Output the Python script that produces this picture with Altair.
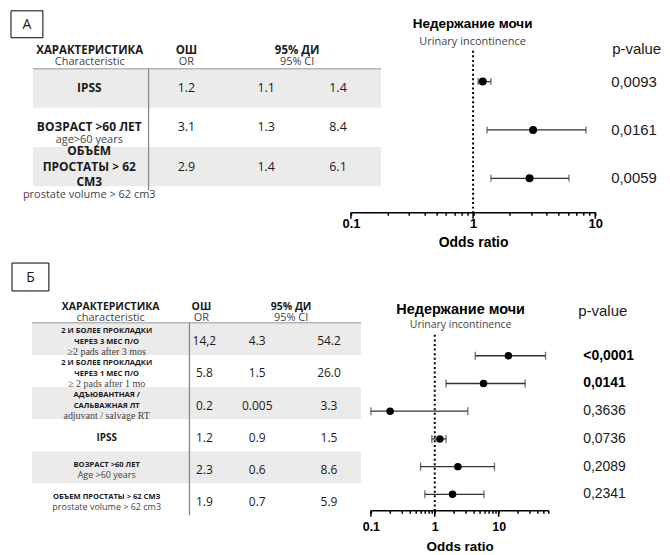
import altair as alt
import pandas as pd

# ---------------- data ----------------
# Panel A
a_ru = ["IPSS", "ВОЗРАСТ >60 ЛЕТ", "ОБЪЕМ\nПРОСТАТЫ > 62\nСМ3"]
a_en = ["", "age>60 years", "prostate volume > 62 cm3"]
a_or = [1.2, 3.1, 2.9]
a_lo = [1.1, 1.3, 1.4]
a_hi = [1.4, 8.4, 6.1]
a_or_txt = ["1.2", "3.1", "2.9"]
a_lo_txt = ["1.1", "1.3", "1.4"]
a_hi_txt = ["1.4", "8.4", "6.1"]
a_p = ["0,0093", "0,0161", "0,0059"]

# Panel B
b_ru = ["2 И БОЛЕЕ ПРОКЛАДКИ\nЧЕРЕЗ 3 МЕС П/О", "2 И БОЛЕЕ ПРОКЛАДКИ\nЧЕРЕЗ 1 МЕС П/О",
        "АДЪЮВАНТНАЯ /\nСАЛЬВАЖНАЯ ЛТ", "IPSS", "ВОЗРАСТ >60 ЛЕТ", "ОБЪЕМ ПРОСТАТЫ > 62 СМЗ"]
b_en = ["≥2 pads after 3 mos", "≥ 2 pads after 1 mo", "adjuvant / salvage RT", "",
        "Age >60 years", "prostate volume > 62 cm3"]
b_or = [14.2, 5.8, 0.2, 1.2, 2.3, 1.9]
b_lo = [4.3, 1.5, 0.005, 0.9, 0.6, 0.7]
b_hi = [54.2, 26.0, 3.3, 1.5, 8.6, 5.9]
b_or_txt = ["14,2", "5.8", "0.2", "1.2", "2.3", "1.9"]
b_lo_txt = ["4.3", "1.5", "0.005", "0.9", "0.6", "0.7"]
b_hi_txt = ["54.2", "26.0", "3.3", "1.5", "8.6", "5.9"]
b_p = ["<0,0001", "0,0141", "0,3636", "0,0736", "0,2089", "0,2341"]

# texts
panel_labels = ["A", "Б"]
head_char = ["ХАРАКТЕРИСТИКА", "Characteristic", "characteristic"]
head_or = ["ОШ", "OR"]
head_ci = ["95% ДИ", "95% CI"]
title_ru = "Недержание мочи"
title_en = "Urinary incontinence"
pval_head = "p-value"
axis_title = "Odds ratio"
ticks_a = [0.1, 0.2, 0.3, 0.4, 0.5, 0.6, 0.7, 0.8, 0.9, 1, 2, 3, 4, 5, 6, 7, 8, 9, 10]
ticks_b = ticks_a + [20, 30, 40, 50, 60]
major_ticks = [0.1, 1, 10]

FS = "Open Sans"
FA = "Liberation Sans"
FSERIF = "Liberation Serif"
INK = "#1a1a1a"
SUB = "#444444"
BAND = "#ebebeb"


def pnum(s):
    return float(s.replace("<", "").replace(",", "."))


def make_df(ru, en, orv, lo, hi, ort, lot, hit, p):
    return pd.DataFrame({
        "k": [str(i) for i in range(len(ru))], "ru": ru, "en": en,
        "or": orv, "lo": lo, "hi": hi, "ort": ort, "lot": lot, "hit": hit,
        "p": p, "pn": [pnum(v) for v in p],
    })


def one(text):
    return pd.DataFrame({"t": [text]})


def txt(text, x, y, size, weight="normal", font=FS, color=INK, align="center", baseline="middle"):
    return alt.Chart(one(text)).mark_text(
        font=font, fontSize=size, fontWeight=weight, color=color, align=align, baseline=baseline
    ).encode(text="t:N", x=alt.value(x), y=alt.value(y))


def hrule(x0, x1, y, color, width=1):
    return alt.Chart(one("")).mark_rule(color=color, strokeWidth=width).encode(
        x=alt.value(x0), x2=alt.value(x1), y=alt.value(y))


def vrule(x, y0, y1, color, width=1):
    return alt.Chart(one("")).mark_rule(color=color, strokeWidth=width).encode(
        x=alt.value(x), y=alt.value(y0), y2=alt.value(y1))


def panel(df, c):
    W, H = 654, c["H"]
    keys = list(df["k"])
    y_band = alt.Y("k:N", axis=None,
                   scale=alt.Scale(type="band", domain=keys, range=c["band"], paddingInner=0, paddingOuter=0))
    y_tab = alt.Y("k:N", axis=None,
                  scale=alt.Scale(type="point", domain=keys, range=c["band"], padding=0.5))
    y_for = alt.Y("k:N", axis=None,
                  scale=alt.Scale(type="point", domain=keys, range=c["forest"], padding=0))
    xs = alt.Scale(type="log", domain=c["dom"], range=c["xr"], clamp=True, nice=False)
    ax = alt.Axis(values=c["ticks"], title=axis_title, grid=False, orient="bottom",
                  labelExpr="datum.value == 0.1 ? '0.1' : datum.value == 1 ? '1' : datum.value == 10 ? '10' : ''",
                  tickSize=3, tickColor="black", tickWidth=1.5, domainColor="black", domainWidth=1.5,
                  labelFont=FA, labelFontWeight="bold", labelFontSize=c["lab_fs"], labelColor="black",
                  labelPadding=c["lab_pad"], labelOverlap=False, labelFlush=False,
                  titleFont=FA, titleFontWeight="bold", titleFontSize=c["tit_fs"], titleColor="black",
                  titlePadding=c["tit_pad"])

    def X(field):
        return alt.X(field, scale=xs, axis=ax)

    base = alt.Chart(df)
    tdy = c["text_dy"]
    layers = []
    # shaded rows
    layers.append(base.transform_filter("toNumber(datum.k) % 2 == 0").mark_rect(color=BAND).encode(
        x=alt.value(c["bx"][0]), x2=alt.value(c["bx"][1]), y=y_band))
    layers.append(hrule(c["bx"][0], c["bx"][1], c["band"][0], "#b5b5b5", 1.5))
    layers.append(vrule(c["vx"], c["band"][0], c["vline_end"], "#8a8a8a", 1.3))

    # row labels
    L, Le = c["lh_ru"], c["lh_en"]
    for i, r in df.iterrows():
        nlines = r["ru"].count("\n") + 1
        has_en = r["en"] != ""
        if c["mode"] == "ru":
            dy_ru, dy_en = 0, nlines * L / 2 + Le / 2
        else:
            dy_ru = -Le / 2 if has_en else 0
            dy_en = nlines * L / 2
        dy_ru -= (nlines - 1) * L / 2
        row = alt.Chart(df.iloc[[i]])
        fs_ru = c["fs_ru"] if has_en or nlines > 1 or c["mode"] == "ru" else c["fs_ru_solo"]
        layers.append(row.mark_text(font=FS, fontWeight="bold", fontSize=fs_ru, color=INK,
                                    lineBreak="\n", lineHeight=L, dy=dy_ru + tdy).encode(
            x=alt.value(c["lx"]), y=y_tab, text="ru:N"))
        if has_en:
            serif = c["serif_en"] and i < 3
            layers.append(row.mark_text(font=FSERIF if serif else FS, fontSize=c["fs_en"] + (1 if serif else 0),
                                        color=SUB, dy=dy_en + tdy).encode(
                x=alt.value(c["lx"]), y=y_tab, text="en:N"))

    # value columns
    for field, xx in [("ort", c["cx"][0]), ("lot", c["cx"][1]), ("hit", c["cx"][2])]:
        layers.append(base.mark_text(font=FS, fontSize=c["fs_val"], color=INK, dy=tdy).encode(
            x=alt.value(xx), y=y_tab, text=f"{field}:N"))

    # headers
    hy = c["head_y"]
    layers += [
        txt(head_char[0], c["hx"][0], hy[0], c["fs_head"], "bold"),
        txt(c["char_sub"], c["hx"][0], hy[1], c["fs_head_sub"], color=SUB),
        txt(head_or[0], c["hx"][1], hy[0], c["fs_head"], "bold"),
        txt(head_or[1], c["hx"][1], hy[1], c["fs_head_sub"], color=SUB),
        txt(head_ci[0], c["hx"][2], hy[0], c["fs_head"], "bold"),
        txt(head_ci[1], c["hx"][2], hy[1], c["fs_head_sub"], color=SUB),
    ]

    # panel letter box
    bx = c["box"]
    layers.append(alt.Chart(one("")).mark_rect(fill="white", stroke="black", strokeWidth=1).encode(
        x=alt.value(bx[0]), x2=alt.value(bx[1]), y=alt.value(bx[2]), y2=alt.value(bx[3])))
    layers.append(txt(c["letter"], (bx[0] + bx[1]) / 2, (bx[2] + bx[3]) / 2 + 1, 14, font=FS))

    # forest
    layers.append(alt.Chart(pd.DataFrame({"v": [1]})).mark_rule(
        color="black", strokeWidth=2, strokeDash=[2, 2.6]).encode(
        x=X("v:Q"), y=alt.value(c["ref_top"]), y2=alt.value(H)))
    layers.append(base.mark_rule(color="#333333", strokeWidth=1.3).encode(x=X("lo:Q"), x2="hi:Q", y=y_for))
    layers.append(base.mark_tick(color="#333333", thickness=1.3, size=c["cap"]).encode(x=X("lo:Q"), y=y_for))
    layers.append(base.mark_tick(color="#333333", thickness=1.3, size=c["cap"]).encode(x=X("hi:Q"), y=y_for))
    layers.append(base.mark_circle(color="black", opacity=1, size=c["dot"]).encode(x=X("or:Q"), y=y_for))
    layers.append(alt.Chart(pd.DataFrame({"v": major_ticks})).mark_rule(color="black", strokeWidth=1.5).encode(
        x=X("v:Q"), y=alt.value(H), y2=alt.value(H + 6.5)))

    # titles
    layers.append(txt(title_ru, c["tx"], c["ty"][0], c["fs_title"], "bold", font=FA, color="black"))
    layers.append(txt(title_en, c["tx"], c["ty"][1], c["fs_title_en"], font=FS, color=SUB))
    layers.append(txt(pval_head, c["px_head"], c["ty"][2], c["fs_phead"], font=FA, color=INK, align="left"))

    # p-values
    if c["bold_sig"]:
        sig, nsig = "datum.pn < 0.05", "datum.pn >= 0.05"
    else:
        sig, nsig = "false", "true"
    layers.append(base.transform_filter(sig).mark_text(font=FA, fontSize=c["fs_p"], fontWeight="bold",
                                                        color="black", align="left").encode(
        x=alt.value(c["px"]), y=y_for, text="p:N"))
    layers.append(base.transform_filter(nsig).mark_text(font=FA, fontSize=c["fs_p"], color=INK,
                                                         align="left").encode(
        x=alt.value(c["px"]), y=y_for, text="p:N"))

    return alt.layer(*layers).resolve_scale(y="independent").properties(width=W, height=H)


df_a = make_df(a_ru, a_en, a_or, a_lo, a_hi, a_or_txt, a_lo_txt, a_hi_txt, a_p)
df_b = make_df(b_ru, b_en, b_or, b_lo, b_hi, b_or_txt, b_lo_txt, b_hi_txt, b_p)

cfg_a = dict(H=204, band=[60, 178], forest=[73, 170], dom=[0.1, 10], xr=[344, 589], ticks=ticks_a,
             lab_fs=13, lab_pad=2, tit_fs=14, tit_pad=5, bx=[25, 374], vx=141, vline_end=182,
             lh_ru=15.5, lh_en=10, mode="ru", fs_ru=12, fs_ru_solo=12, fs_en=11, serif_en=False,
             lx=81.5, cx=[179, 259, 331], fs_val=12.5, head_y=[42, 53], hx=[82, 179, 290],
             fs_head=11.5, fs_head_sub=11, char_sub=head_char[1], box=[3, 35, 2, 29], letter=panel_labels[0],
             ref_top=42, cap=7, dot=64, tx=466, ty=[15, 33, 40], fs_title=13.5, fs_title_en=11,
             px_head=606, fs_phead=15, px=605, fs_p=15, bold_sig=False, text_dy=0)

cfg_b = dict(H=255, band=[67, 260], forest=[100, 239], dom=[0.1, 60], xr=[364, 542], ticks=ticks_b,
             lab_fs=12.5, lab_pad=7, tit_fs=13.5, tit_pad=7, bx=[24, 354], vx=182, vline_end=260,
             lh_ru=11, lh_en=10, mode="block", fs_ru=7.6, fs_ru_solo=10, fs_en=9, serif_en=True,
             lx=99, cx=[197, 250, 322], fs_val=12, head_y=[51.5, 62], hx=[103, 194, 284],
             fs_head=10.5, fs_head_sub=11, char_sub=head_char[2], box=[4, 41, 7, 35], letter=panel_labels[1],
             ref_top=79, cap=8, dot=56, tx=454, ty=[54, 69, 55], fs_title=14.5, fs_title_en=10.5,
             px_head=572, fs_phead=15, px=577, fs_p=14, bold_sig=True, text_dy=2.5)

chart = alt.vconcat(panel(df_a, cfg_a), panel(df_b, cfg_b), spacing=7, padding=0).configure_view(stroke=None)
chart.save("out.html", embed_options={"renderer": "svg", "actions": False})
